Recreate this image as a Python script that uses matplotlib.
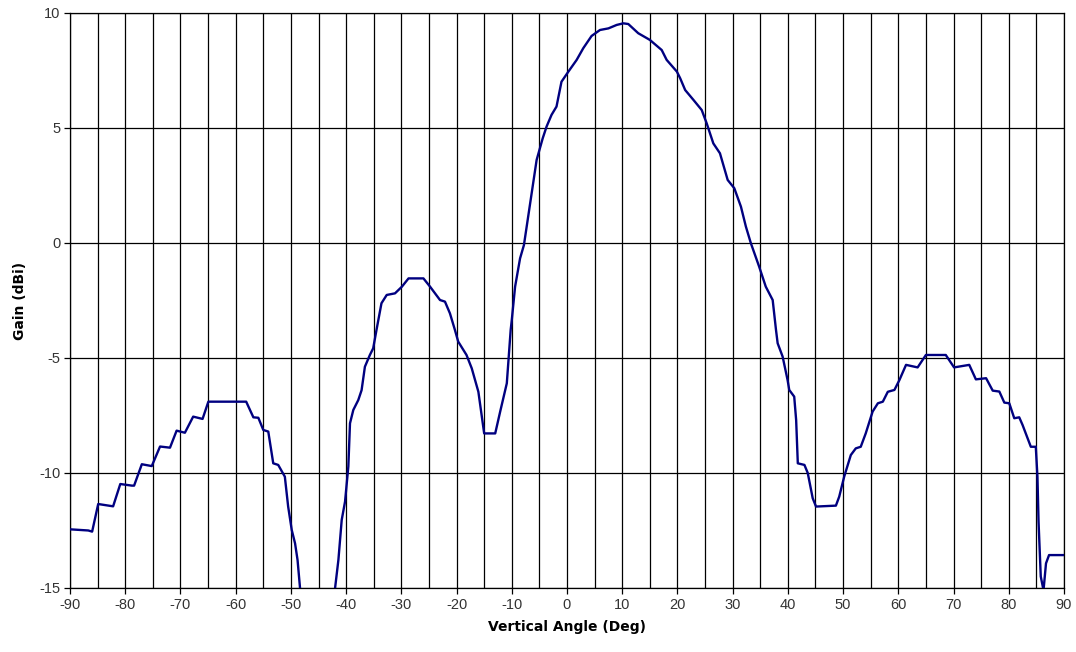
import numpy as np
import matplotlib.pyplot as plt
from matplotlib.ticker import MultipleLocator

plt.rcParams["axes.unicode_minus"] = False

# vertical-plane antenna pattern
angle = [-90.0, -86.7, -86.0, -84.9, -82.2, -80.9, -78.8, -78.4, -77.0, -75.2,
         -73.7, -71.9, -70.7, -69.2, -67.7, -66.0, -64.95, -58.1, -56.8, -55.9,
         -55.0, -54.1, -53.2, -52.3, -51.1, -50.5, -49.85, -49.25, -48.8, -48.35,
         -47.8, -45.0, -42.6, -42.0, -41.4, -40.8, -40.2, -39.6, -39.3, -38.7,
         -37.8, -37.2, -36.6, -35.7, -35.1, -34.5, -33.6, -32.65, -31.15, -29.9,
         -28.7, -26.0, -24.8, -23.0, -22.1, -21.2, -20.3, -19.7, -18.2, -17.25,
         -16.05, -15.0, -13.0, -12.1, -10.9, -10.6, -10.2, -10.0, -9.4, -8.5,
         -7.8, -7.3, -6.4, -5.5, -4.4, -3.7, -2.8, -1.9, -1.0, 0.25,
         1.75, 2.95, 4.45, 5.97, 7.5, 9.0, 10.2, 11.1, 12.9, 15.0,
         17.15, 18.05, 19.9, 20.5, 21.4, 22.9, 24.4, 25.3, 26.5, 27.7,
         29.1, 30.3, 31.5, 32.4, 33.3, 34.8, 36.0, 37.25, 37.85, 38.15,
         39.05, 39.95, 40.25, 41.15, 41.5, 41.8, 43.0, 43.6, 44.5, 45.1,
         48.7, 49.3, 50.2, 51.4, 52.3, 53.2, 54.1, 55.35, 56.3, 57.2,
         58.1, 59.3, 60.2, 61.4, 63.5, 65.0, 68.6, 70.1, 72.85, 74.05,
         75.9, 77.1, 78.3, 79.2, 80.1, 81.0, 81.9, 82.5, 84.0, 84.9,
         85.2, 85.4, 85.8, 86.3, 86.75, 87.3, 90.0]
gain = [-12.45, -12.5, -12.55, -11.35, -11.45, -10.48, -10.55, -10.55, -9.62, -9.7,
        -8.85, -8.9, -8.16, -8.25, -7.55, -7.65, -6.9, -6.9, -7.58, -7.6,
        -8.13, -8.2, -9.58, -9.65, -10.16, -11.46, -12.48, -13.06, -13.78, -15.0,
        -17.0, -22.0, -17.0, -15.0, -13.78, -12.04, -11.25, -9.72, -7.84, -7.26,
        -6.83, -6.4, -5.38, -4.87, -4.58, -3.78, -2.62, -2.26, -2.19, -1.9,
        -1.54, -1.54, -1.9, -2.48, -2.55, -3.06, -3.78, -4.29, -4.87, -5.45,
        -6.47, -8.28, -8.28, -7.33, -6.1, -5.09, -3.78, -3.35, -1.9, -0.67,
        -0.09, 0.71, 2.16, 3.61, 4.55, 5.06, 5.57, 5.93, 7.01, 7.45,
        7.96, 8.47, 9.0, 9.26, 9.33, 9.48, 9.55, 9.52, 9.12, 8.83,
        8.39, 7.96, 7.45, 7.16, 6.65, 6.22, 5.78, 5.2, 4.33, 3.9,
        2.74, 2.38, 1.58, 0.71, -0.01, -1.03, -1.9, -2.48, -3.78, -4.36,
        -4.94, -5.96, -6.39, -6.68, -7.7, -9.58, -9.65, -10.0, -11.1, -11.46,
        -11.42, -11.03, -10.16, -9.22, -8.93, -8.86, -8.28, -7.33, -6.97, -6.9,
        -6.47, -6.39, -5.96, -5.3, -5.41, -4.87, -4.87, -5.41, -5.3, -5.93,
        -5.88, -6.42, -6.46, -6.94, -6.97, -7.62, -7.58, -7.91, -8.86, -8.86,
        -10.16, -12.12, -14.5, -15.1, -13.93, -13.57, -13.57]

fig = plt.figure(figsize=(10.76, 6.52), dpi=100)
ax = fig.add_axes([0.0651, 0.0982, 0.9237, 0.8819])

ax.plot(angle, gain, color="#000080", lw=1.7, zorder=3)

ax.set_xlim(-90, 90)
ax.set_ylim(-15, 10)
ax.xaxis.set_major_locator(MultipleLocator(10))
ax.xaxis.set_minor_locator(MultipleLocator(5))
ax.yaxis.set_major_locator(MultipleLocator(5))
ax.grid(which="both", axis="x", color="black", lw=0.9)
ax.grid(which="major", axis="y", color="black", lw=0.9)
ax.tick_params(which="major", direction="out", length=4, width=0.9,
               labelsize=10.5, labelcolor="#333333", pad=3)
ax.tick_params(which="minor", length=0)
for lab in ax.get_xticklabels() + ax.get_yticklabels():
    lab.set_family("Liberation Sans")
for s in ax.spines.values():
    s.set_color("black"); s.set_linewidth(0.9)

ax.set_xlabel("Vertical Angle (Deg)", fontsize=10, fontweight="bold", labelpad=6)
ax.set_ylabel("Gain (dBi)", fontsize=10, fontweight="bold", labelpad=9)

fig.savefig("out.png", dpi=100)
